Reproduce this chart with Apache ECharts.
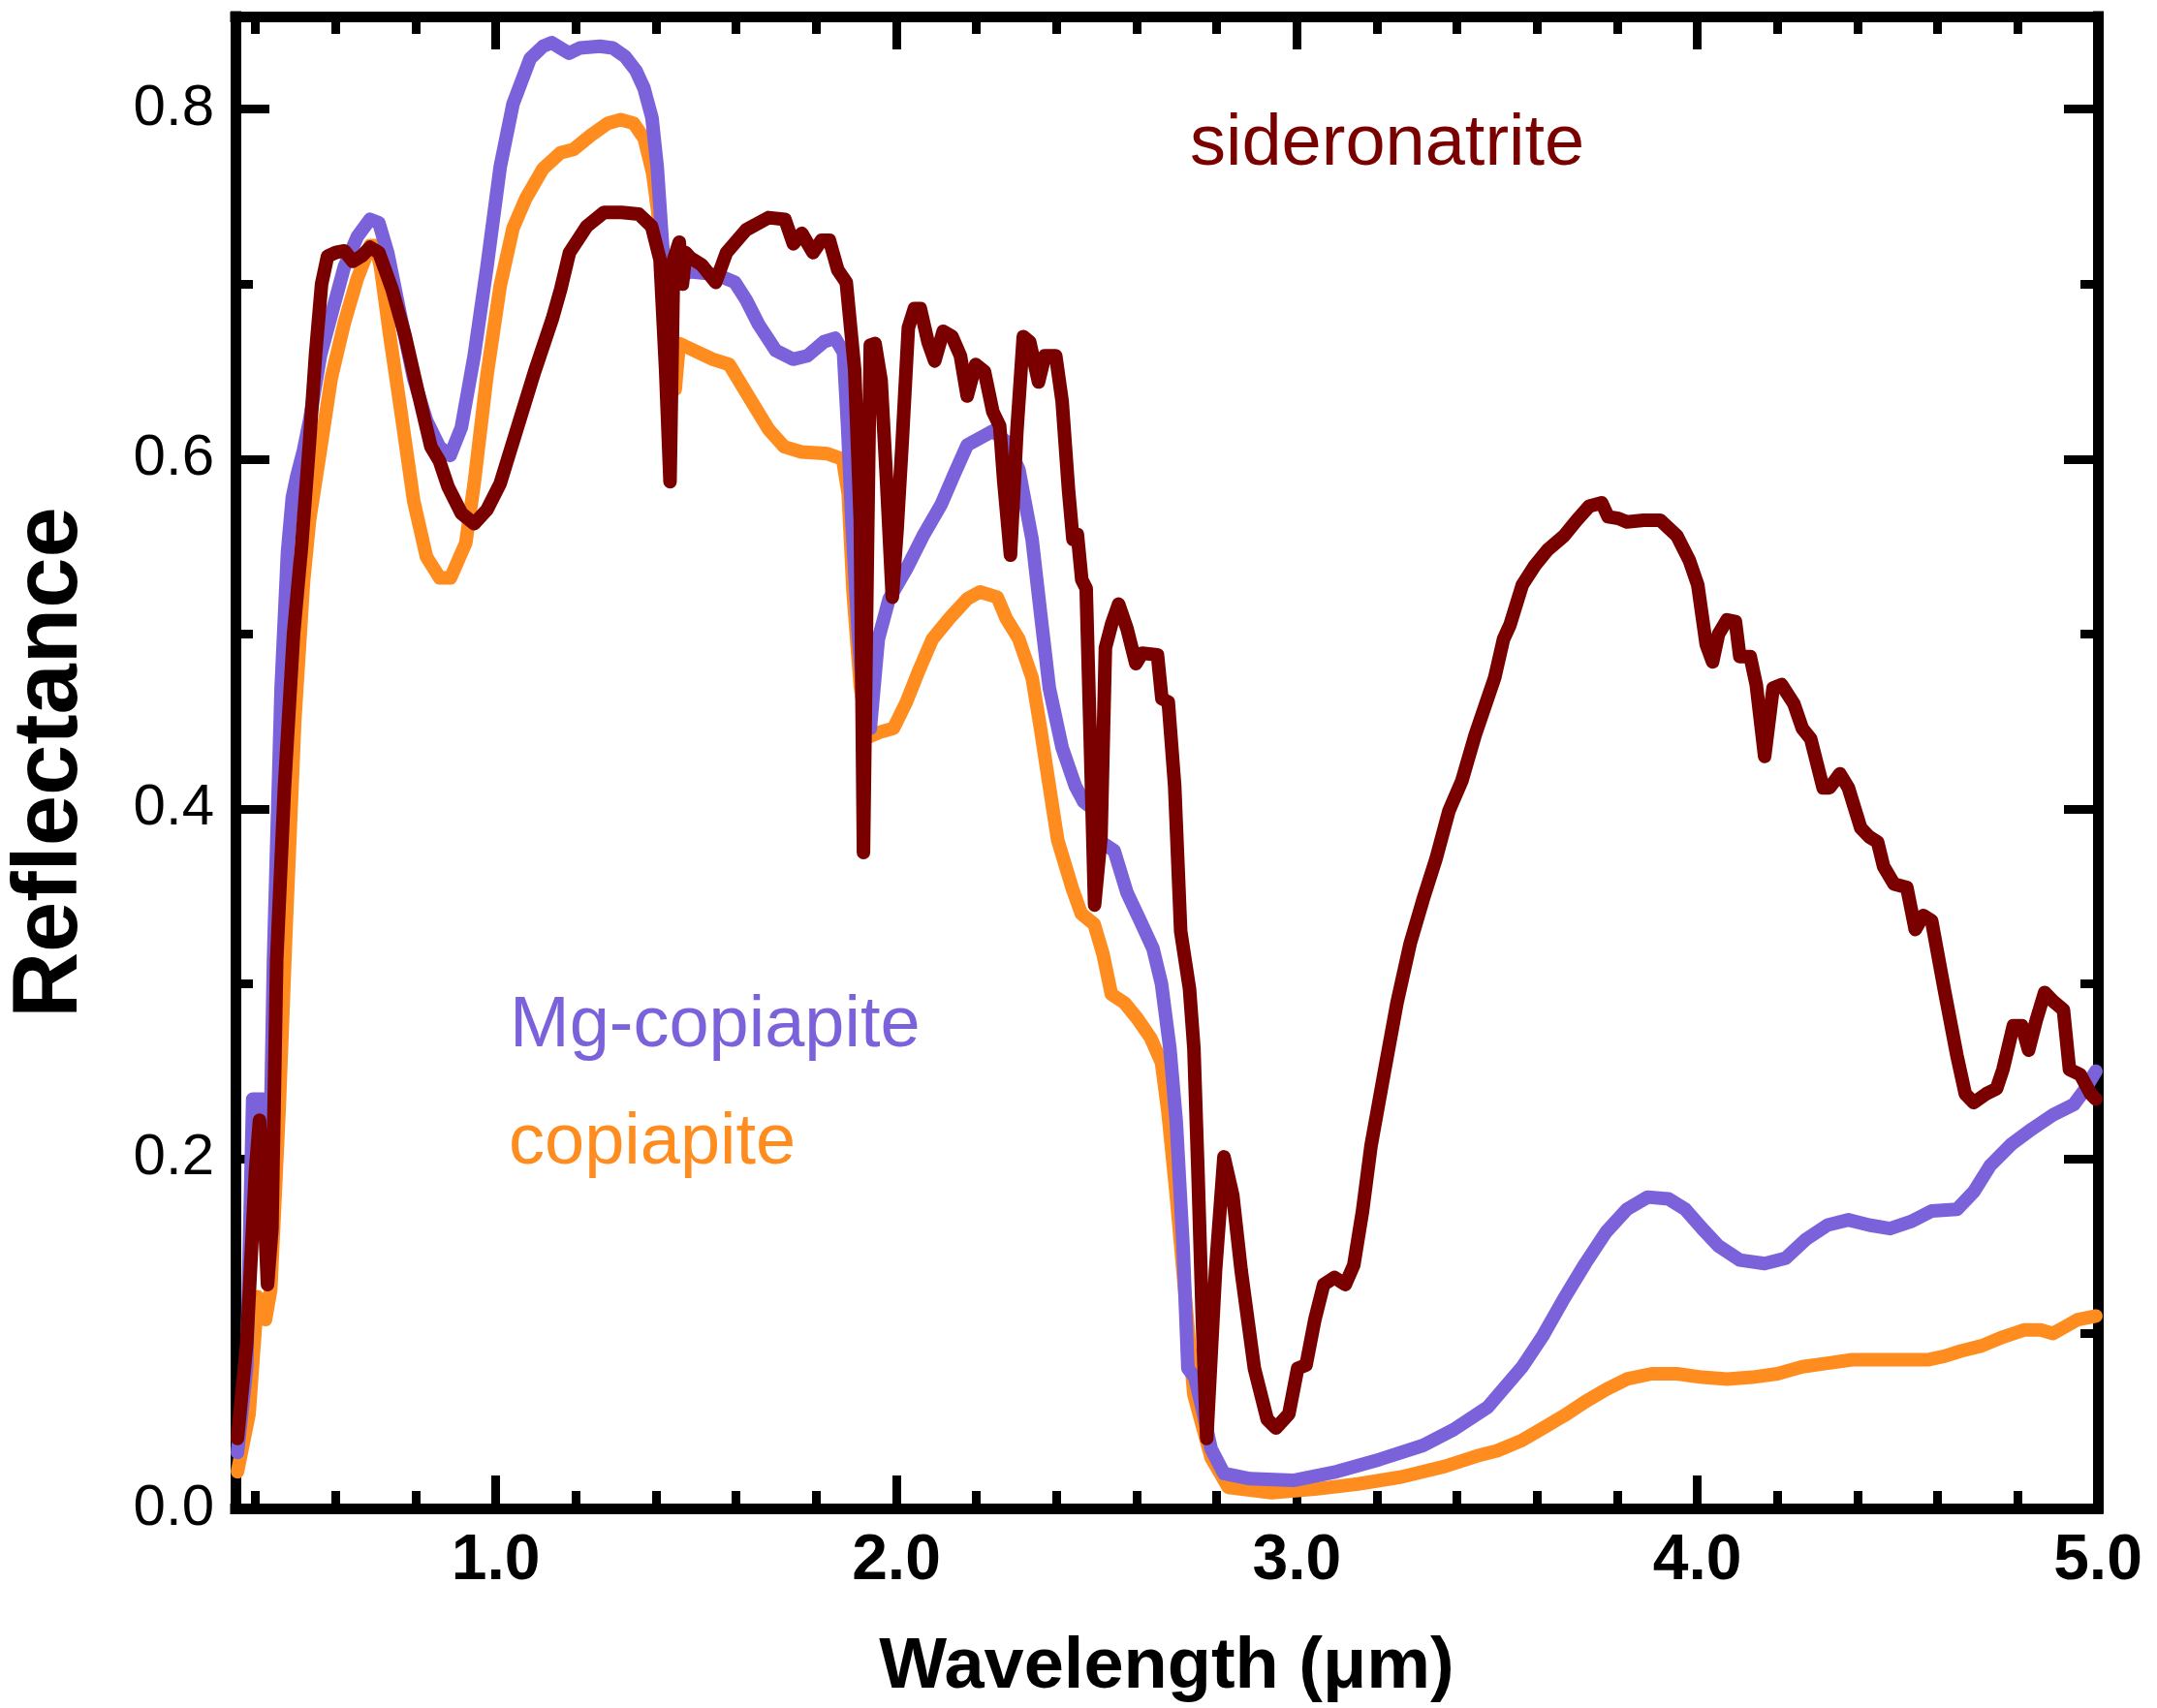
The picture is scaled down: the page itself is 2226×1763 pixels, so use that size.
<!DOCTYPE html>
<html lang="en">
<head>
    <meta charset="UTF-8">
    <title>Reflectance spectra</title>
    <script src="https://cdn.jsdelivr.net/npm/echarts@6/dist/echarts.min.js"></script>
    <style>
        * {
            margin: 0;
            padding: 0;
            box-sizing: border-box;
        }

        body {
            background: #fff;
        }

        #chart {
            width: 2226px;
            height: 1763px;
        }
    </style>
</head>
<body>
    <div id="chart"></div>

    <script>
        // spectra: [wavelength (um), reflectance]
        const copiapite = [
            [0.355, 0.021], [0.384, 0.054], [0.405, 0.121], [0.415, 0.118], [0.425, 0.108], [0.438, 0.125],
            [0.459, 0.228], [0.476, 0.33], [0.498, 0.45], [0.52, 0.53], [0.535, 0.565], [0.562, 0.605],
            [0.589, 0.646], [0.622, 0.678], [0.654, 0.703], [0.686, 0.722], [0.70, 0.722], [0.712, 0.71],
            [0.735, 0.671], [0.762, 0.629], [0.795, 0.576], [0.827, 0.544], [0.86, 0.532], [0.887, 0.532],
            [0.925, 0.552], [0.946, 0.586], [0.978, 0.648], [1.011, 0.699], [1.043, 0.732], [1.075, 0.749],
            [1.118, 0.766], [1.161, 0.775], [1.194, 0.777], [1.237, 0.785], [1.28, 0.792], [1.312, 0.794],
            [1.344, 0.792], [1.371, 0.783], [1.392, 0.763], [1.403, 0.744], [1.419, 0.714], [1.438, 0.653],
            [1.448, 0.64], [1.458, 0.666], [1.486, 0.663], [1.542, 0.657], [1.583, 0.654], [1.625, 0.638],
            [1.681, 0.617], [1.72, 0.607], [1.763, 0.604], [1.828, 0.603], [1.866, 0.6], [1.88, 0.58],
            [1.892, 0.524], [1.91, 0.47], [1.93, 0.441], [1.961, 0.444], [1.993, 0.446], [2.025, 0.461],
            [2.058, 0.48], [2.09, 0.497], [2.133, 0.509], [2.177, 0.52], [2.209, 0.524], [2.252, 0.521],
            [2.274, 0.509], [2.306, 0.497], [2.339, 0.475], [2.36, 0.446], [2.382, 0.413], [2.403, 0.382],
            [2.44, 0.354], [2.462, 0.34], [2.494, 0.334], [2.516, 0.317], [2.537, 0.294], [2.57, 0.289],
            [2.602, 0.28], [2.635, 0.269], [2.662, 0.255], [2.678, 0.227], [2.699, 0.179], [2.721, 0.122],
            [2.743, 0.065], [2.786, 0.029], [2.829, 0.012], [2.937, 0.009], [3.045, 0.011], [3.153, 0.014],
            [3.261, 0.018], [3.369, 0.024], [3.45, 0.03], [3.5, 0.033], [3.563, 0.039], [3.615, 0.046],
            [3.667, 0.053], [3.72, 0.061], [3.772, 0.068], [3.824, 0.074], [3.886, 0.077], [3.949, 0.077],
            [4.012, 0.075], [4.074, 0.074], [4.137, 0.075], [4.2, 0.077], [4.262, 0.081], [4.325, 0.083],
            [4.387, 0.085], [4.45, 0.085], [4.512, 0.085], [4.575, 0.085], [4.617, 0.087], [4.658, 0.09],
            [4.71, 0.093], [4.763, 0.098], [4.815, 0.102], [4.857, 0.102], [4.888, 0.1], [4.919, 0.104],
            [4.95, 0.108], [4.995, 0.11]
        ];

        const mgCopiapite = [
            [0.355, 0.032], [0.378, 0.081], [0.393, 0.234], [0.418, 0.234], [0.427, 0.161], [0.436, 0.2],
            [0.445, 0.314], [0.464, 0.469], [0.48, 0.547], [0.492, 0.578], [0.503, 0.59], [0.52, 0.605],
            [0.535, 0.622], [0.562, 0.659], [0.589, 0.682], [0.622, 0.71], [0.654, 0.727], [0.686, 0.737],
            [0.708, 0.735], [0.73, 0.718], [0.762, 0.682], [0.795, 0.646], [0.827, 0.622], [0.859, 0.607],
            [0.886, 0.602], [0.914, 0.618], [0.946, 0.659], [0.978, 0.71], [1.011, 0.767], [1.043, 0.803],
            [1.086, 0.829], [1.118, 0.836], [1.14, 0.838], [1.161, 0.835], [1.183, 0.832], [1.21, 0.835],
            [1.26, 0.836], [1.292, 0.835], [1.323, 0.83], [1.35, 0.822], [1.37, 0.812], [1.39, 0.795],
            [1.403, 0.767], [1.417, 0.72], [1.431, 0.686], [1.444, 0.703], [1.486, 0.707], [1.527, 0.706],
            [1.556, 0.705], [1.597, 0.701], [1.625, 0.691], [1.656, 0.677], [1.699, 0.662], [1.742, 0.657],
            [1.778, 0.659], [1.819, 0.667], [1.847, 0.669], [1.868, 0.661], [1.878, 0.62], [1.889, 0.565],
            [1.905, 0.5], [1.92, 0.455], [1.935, 0.446], [1.955, 0.497], [1.982, 0.52], [2.025, 0.537],
            [2.069, 0.557], [2.112, 0.574], [2.144, 0.591], [2.177, 0.608], [2.209, 0.612], [2.241, 0.616],
            [2.274, 0.61], [2.306, 0.594], [2.339, 0.554], [2.36, 0.512], [2.382, 0.469], [2.414, 0.435],
            [2.447, 0.413], [2.468, 0.404], [2.49, 0.4], [2.511, 0.381], [2.544, 0.376], [2.576, 0.352],
            [2.609, 0.336], [2.641, 0.32], [2.662, 0.3], [2.683, 0.263], [2.699, 0.221], [2.716, 0.15],
            [2.728, 0.08], [2.745, 0.075], [2.764, 0.057], [2.786, 0.034], [2.818, 0.02], [2.883, 0.017],
            [2.991, 0.016], [3.099, 0.021], [3.207, 0.028], [3.315, 0.036], [3.391, 0.045], [3.477, 0.058],
            [3.563, 0.081], [3.615, 0.099], [3.667, 0.12], [3.72, 0.14], [3.772, 0.158], [3.824, 0.171],
            [3.876, 0.178], [3.928, 0.177], [3.97, 0.171], [4.012, 0.16], [4.053, 0.15], [4.106, 0.142],
            [4.168, 0.14], [4.22, 0.143], [4.272, 0.154], [4.325, 0.162], [4.377, 0.165], [4.429, 0.162],
            [4.481, 0.16], [4.533, 0.164], [4.585, 0.17], [4.648, 0.171], [4.69, 0.181], [4.731, 0.196],
            [4.783, 0.208], [4.836, 0.217], [4.888, 0.225], [4.94, 0.231], [4.966, 0.239], [4.995, 0.25]
        ];

        const sideronatrite = [
            [0.355, 0.04], [0.378, 0.094], [0.40, 0.193], [0.41, 0.222], [0.42, 0.18], [0.43, 0.128],
            [0.441, 0.16], [0.453, 0.314], [0.472, 0.411], [0.495, 0.5], [0.515, 0.55], [0.535, 0.61],
            [0.55, 0.66], [0.565, 0.70], [0.58, 0.716], [0.60, 0.718], [0.622, 0.719], [0.643, 0.713],
            [0.665, 0.716], [0.686, 0.721], [0.708, 0.718], [0.741, 0.697], [0.773, 0.671], [0.805, 0.639],
            [0.838, 0.607], [0.859, 0.599], [0.881, 0.584], [0.914, 0.569], [0.946, 0.563], [0.978, 0.571],
            [1.011, 0.586], [1.054, 0.618], [1.097, 0.65], [1.141, 0.68], [1.162, 0.697], [1.184, 0.718],
            [1.227, 0.733], [1.27, 0.741], [1.314, 0.741], [1.357, 0.74], [1.389, 0.733], [1.41, 0.714],
            [1.424, 0.651], [1.435, 0.587], [1.444, 0.714], [1.458, 0.724], [1.466, 0.70], [1.474, 0.718],
            [1.486, 0.715], [1.514, 0.711], [1.549, 0.701], [1.576, 0.718], [1.625, 0.731], [1.681, 0.738],
            [1.722, 0.737], [1.743, 0.723], [1.764, 0.729], [1.792, 0.718], [1.813, 0.725], [1.833, 0.725],
            [1.854, 0.708], [1.875, 0.701], [1.896, 0.651], [1.91, 0.565], [1.918, 0.375], [1.928, 0.55],
            [1.935, 0.665], [1.947, 0.666], [1.962, 0.645], [1.975, 0.59], [1.99, 0.521], [2.002, 0.56],
            [2.015, 0.611], [2.03, 0.675], [2.045, 0.686], [2.06, 0.686], [2.079, 0.667], [2.096, 0.656],
            [2.117, 0.673], [2.139, 0.67], [2.16, 0.659], [2.177, 0.636], [2.198, 0.654], [2.22, 0.65],
            [2.241, 0.627], [2.258, 0.619], [2.268, 0.588], [2.285, 0.545], [2.301, 0.616], [2.317, 0.67],
            [2.333, 0.667], [2.355, 0.644], [2.371, 0.659], [2.398, 0.659], [2.414, 0.633], [2.43, 0.582],
            [2.441, 0.554], [2.452, 0.557], [2.463, 0.531], [2.474, 0.526], [2.484, 0.441], [2.495, 0.345],
            [2.511, 0.384], [2.522, 0.492], [2.538, 0.506], [2.555, 0.517], [2.576, 0.503], [2.598, 0.483],
            [2.614, 0.489], [2.652, 0.488], [2.663, 0.463], [2.679, 0.461], [2.695, 0.413], [2.71, 0.33],
            [2.732, 0.297], [2.743, 0.263], [2.753, 0.193], [2.764, 0.108], [2.775, 0.04], [2.797, 0.136],
            [2.818, 0.201], [2.84, 0.179], [2.861, 0.136], [2.894, 0.08], [2.926, 0.051], [2.948, 0.046],
            [2.98, 0.054], [3.002, 0.08], [3.023, 0.082], [3.045, 0.108], [3.067, 0.128], [3.094, 0.132],
            [3.121, 0.128], [3.142, 0.139], [3.164, 0.17], [3.185, 0.207], [3.218, 0.249], [3.25, 0.289],
            [3.283, 0.323], [3.315, 0.348], [3.347, 0.371], [3.38, 0.399], [3.412, 0.416], [3.445, 0.442],
            [3.494, 0.475], [3.516, 0.497], [3.532, 0.505], [3.563, 0.528], [3.594, 0.539], [3.626, 0.548],
            [3.667, 0.556], [3.699, 0.565], [3.73, 0.573], [3.761, 0.575], [3.777, 0.567], [3.803, 0.566],
            [3.824, 0.564], [3.866, 0.565], [3.907, 0.565], [3.949, 0.556], [3.98, 0.542], [4.001, 0.528],
            [4.022, 0.494], [4.038, 0.484], [4.053, 0.5], [4.074, 0.508], [4.095, 0.507], [4.106, 0.487],
            [4.132, 0.487], [4.147, 0.471], [4.168, 0.43], [4.189, 0.469], [4.21, 0.471], [4.241, 0.46],
            [4.262, 0.446], [4.283, 0.44], [4.314, 0.412], [4.33, 0.412], [4.356, 0.42], [4.377, 0.412],
            [4.408, 0.389], [4.429, 0.384], [4.45, 0.381], [4.465, 0.367], [4.491, 0.357], [4.523, 0.355],
            [4.544, 0.331], [4.564, 0.339], [4.585, 0.336], [4.617, 0.296], [4.648, 0.259], [4.669, 0.237],
            [4.69, 0.232], [4.721, 0.237], [4.747, 0.24], [4.763, 0.251], [4.789, 0.276], [4.81, 0.276],
            [4.827, 0.262], [4.846, 0.279], [4.867, 0.295], [4.888, 0.29], [4.914, 0.285], [4.929, 0.251],
            [4.956, 0.248], [4.982, 0.237], [4.995, 0.234]
        ];

        // axis ranges and tick positions
        const xRange = [0.35, 5.0];
        const yRange = [0, 0.853];
        const xMajorTicks = [1, 2, 3, 4, 5];
        const xMinorTicks = [0.4, 0.6, 0.8, 1.2, 1.4, 1.6, 1.8, 2.2, 2.4, 2.6, 2.8, 3.2, 3.4, 3.6, 3.8, 4.2, 4.4, 4.6, 4.8];
        const yMajorTicks = [0, 0.2, 0.4, 0.6, 0.8];
        const yMinorTicks = [0.1, 0.3, 0.5, 0.7];

        const font = '"Liberation Sans", Arial, Helvetica, sans-serif';
        const purple = '#7b62db';
        const orange = '#ff8c1e';
        const darkRed = '#7a0000';

        // one axis = one side of the frame with one set of ticks
        function makeAxis(kind, position, ticks, tickLen, withLine, withLabel) {
            const range = kind === 'x' ? xRange : yRange;
            return {
                type: 'value',
                position: position,
                min: range[0],
                max: range[1],
                axisLine: {
                    show: withLine,
                    onZero: false,
                    lineStyle: { color: '#000', width: 11, cap: 'square' }
                },
                axisTick: {
                    show: true,
                    inside: true,
                    length: tickLen,
                    customValues: ticks,
                    lineStyle: { color: '#000', width: 9 }
                },
                axisLabel: withLabel ? {
                    show: true,
                    customValues: ticks,
                    formatter: v => v.toFixed(1),
                    color: '#000',
                    fontFamily: font,
                    fontSize: kind === 'x' ? 66 : 60,
                    fontWeight: kind === 'x' ? 'bold' : 'normal',
                    margin: 22
                } : { show: false },
                splitLine: { show: false },
                minorTick: { show: false },
                minorSplitLine: { show: false }
            };
        }

        const xAxes = [
            makeAxis('x', 'bottom', xMajorTicks, 34, true, true),
            makeAxis('x', 'bottom', xMinorTicks, 18, false, false),
            makeAxis('x', 'top', xMajorTicks, 34, true, false),
            makeAxis('x', 'top', xMinorTicks, 18, false, false)
        ];
        xAxes[0].name = 'Wavelength (μm)';
        xAxes[0].nameLocation = 'middle';
        xAxes[0].nameGap = 128;
        xAxes[0].nameTextStyle = { fontFamily: font, fontSize: 74, fontWeight: 'bold', color: '#000' };

        const yAxes = [
            makeAxis('y', 'left', yMajorTicks, 35, true, true),
            makeAxis('y', 'left', yMinorTicks, 18, false, false),
            makeAxis('y', 'right', yMajorTicks, 35, true, false),
            makeAxis('y', 'right', yMinorTicks, 18, false, false)
        ];
        yAxes[0].name = 'Reflectance';
        yAxes[0].nameLocation = 'middle';
        yAxes[0].nameGap = 143;
        yAxes[0].nameTextStyle = { fontFamily: font, fontSize: 94, fontWeight: 'bold', color: '#000' };

        function spectrum(name, data, color) {
            return {
                name: name,
                type: 'line',
                xAxisIndex: 0,
                yAxisIndex: 0,
                data: data,
                showSymbol: false,
                symbol: 'none',
                lineStyle: { color: color, width: 14, join: 'round', cap: 'round' },
                clip: true
            };
        }

        const chart = echarts.init(document.getElementById('chart'));
        chart.setOption({
            animation: false,
            backgroundColor: '#fff',
            grid: {
                left: 243,
                right: 61,
                top: 17,
                bottom: 206,
                containLabel: false,
                outerBoundsMode: 'none'
            },
            xAxis: xAxes,
            yAxis: yAxes,
            series: [
                spectrum('copiapite', copiapite, orange),
                spectrum('Mg-copiapite', mgCopiapite, purple),
                spectrum('sideronatrite', sideronatrite, darkRed)
            ],
            graphic: [
                {
                    type: 'text', x: 1228, y: 150,
                    style: { text: 'sideronatrite', fill: darkRed, fontFamily: font, fontSize: 74, verticalAlign: 'middle' }
                },
                {
                    type: 'text', x: 526, y: 1060,
                    style: { text: 'Mg-copiapite', fill: purple, fontFamily: font, fontSize: 74, verticalAlign: 'middle' }
                },
                {
                    type: 'text', x: 525, y: 1181,
                    style: { text: 'copiapite', fill: orange, fontFamily: font, fontSize: 74, verticalAlign: 'middle' }
                }
            ]
        });
    </script>
</body>
</html>
